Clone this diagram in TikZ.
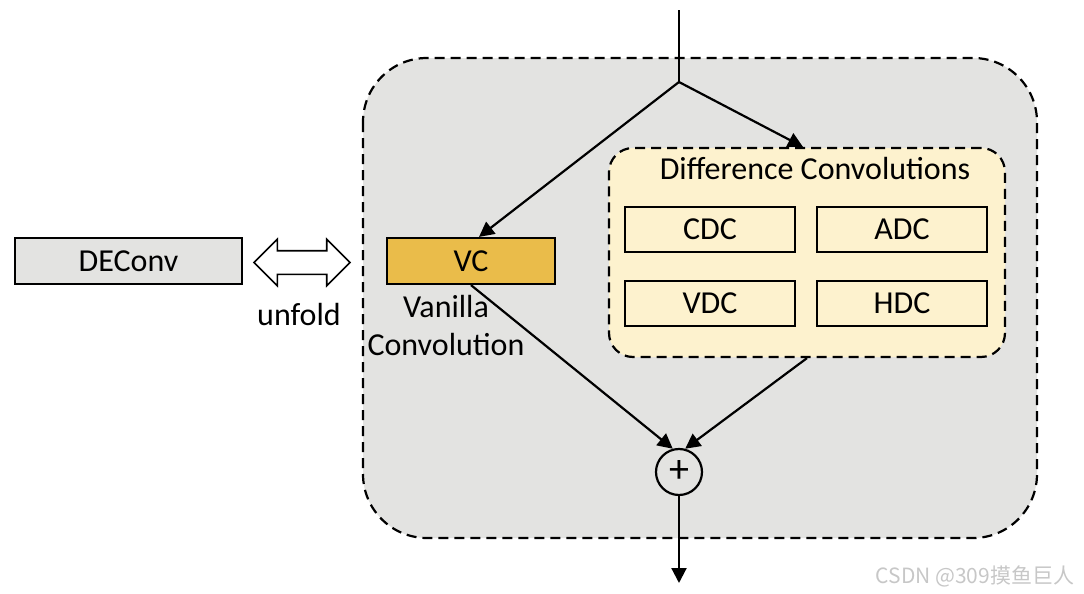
\documentclass[tikz,border=0pt]{standalone}
\usepackage{fontspec}
\setmainfont{Carlito}
\newfontfamily\cjkfont{Noto Sans CJK SC}
\usetikzlibrary{arrows.meta, positioning, shapes.arrows}

\definecolor{panelgray}{RGB}{227,227,225}
\definecolor{vcgold}{RGB}{234,188,74}
\definecolor{diffcream}{RGB}{253,242,206}

\begin{document}
\begin{tikzpicture}[x=0.5pt, y=-0.5pt, line width=1.1pt,
   >={Triangle[length=7.5pt, width=7.5pt]},
   box/.style={draw, minimum width=85pt, minimum height=22.5pt, inner sep=0pt, font=\fontsize{16}{19}\selectfont},
   label/.style={font=\fontsize{16}{19}\selectfont, align=center}]
   \useasboundingbox (0,0) rectangle (1084,594);
   \draw[dash pattern=on 5pt off 3pt, fill=panelgray, rounded corners=32pt] (363,58) rectangle (1037,538);
   \node[box, fill=panelgray, minimum width=113.5pt, minimum height=23pt] (deconv) at (128.5,261) {DEConv};
   \node[draw, fill=white, shape=double arrow, line width=0.8pt, inner xsep=0pt, inner ysep=5.5pt, minimum height=48pt, double arrow head extend=5.75pt] (unfoldarrow) at (302,262.5) {};
   \node[label] (unfold) at (299,315) {unfold};
   \node[box, fill=vcgold, minimum width=84pt, minimum height=23pt] (vc) at (471,261) {VC};
   \node[label] (vanilla) at (446,326) {Vanilla\\Convolution};
   \node[draw, dash pattern=on 5pt off 3pt, fill=diffcream, rounded corners=12pt, minimum width=198pt, minimum height=104.5pt] (diff) at (807,252.5) {};
   \node[label] (difftitle) at (815,169) {Difference Convolutions};
   \node[box, fill=diffcream] (cdc) at (710,229.5) {CDC};
   \node[box, fill=diffcream] (adc) at (902,229.5) {ADC};
   \node[box, fill=diffcream] (vdc) at (710,303.5) {VDC};
   \node[box, fill=diffcream] (hdc) at (902,303.5) {HDC};
   \node[draw, circle, minimum size=23pt, inner sep=0pt, font=\fontsize{20}{20}\selectfont] (plus) at (679,472) {+};
   \coordinate (in) at (679,10);
   \coordinate (split) at (679,82);
   \coordinate (out) at (679,583);
   \draw (in) -- (split);
   \draw[->] (split) -- ([xshift=4pt]vc.north);
   \draw[->] (split) -- ([xshift=-2pt]diff.north);
   \draw[->] (vc.south) -- (plus.105);
   \draw[->] (diff.south) -- (plus.75);
   \draw[->] (plus) -- (out);
   % watermark
   \node[anchor=east, text=black!22, font=\cjkfont\fontsize{10.5}{13}\selectfont] (mark) at (1082,576) {CSDN @309摸鱼巨人};
\end{tikzpicture}
\end{document}
